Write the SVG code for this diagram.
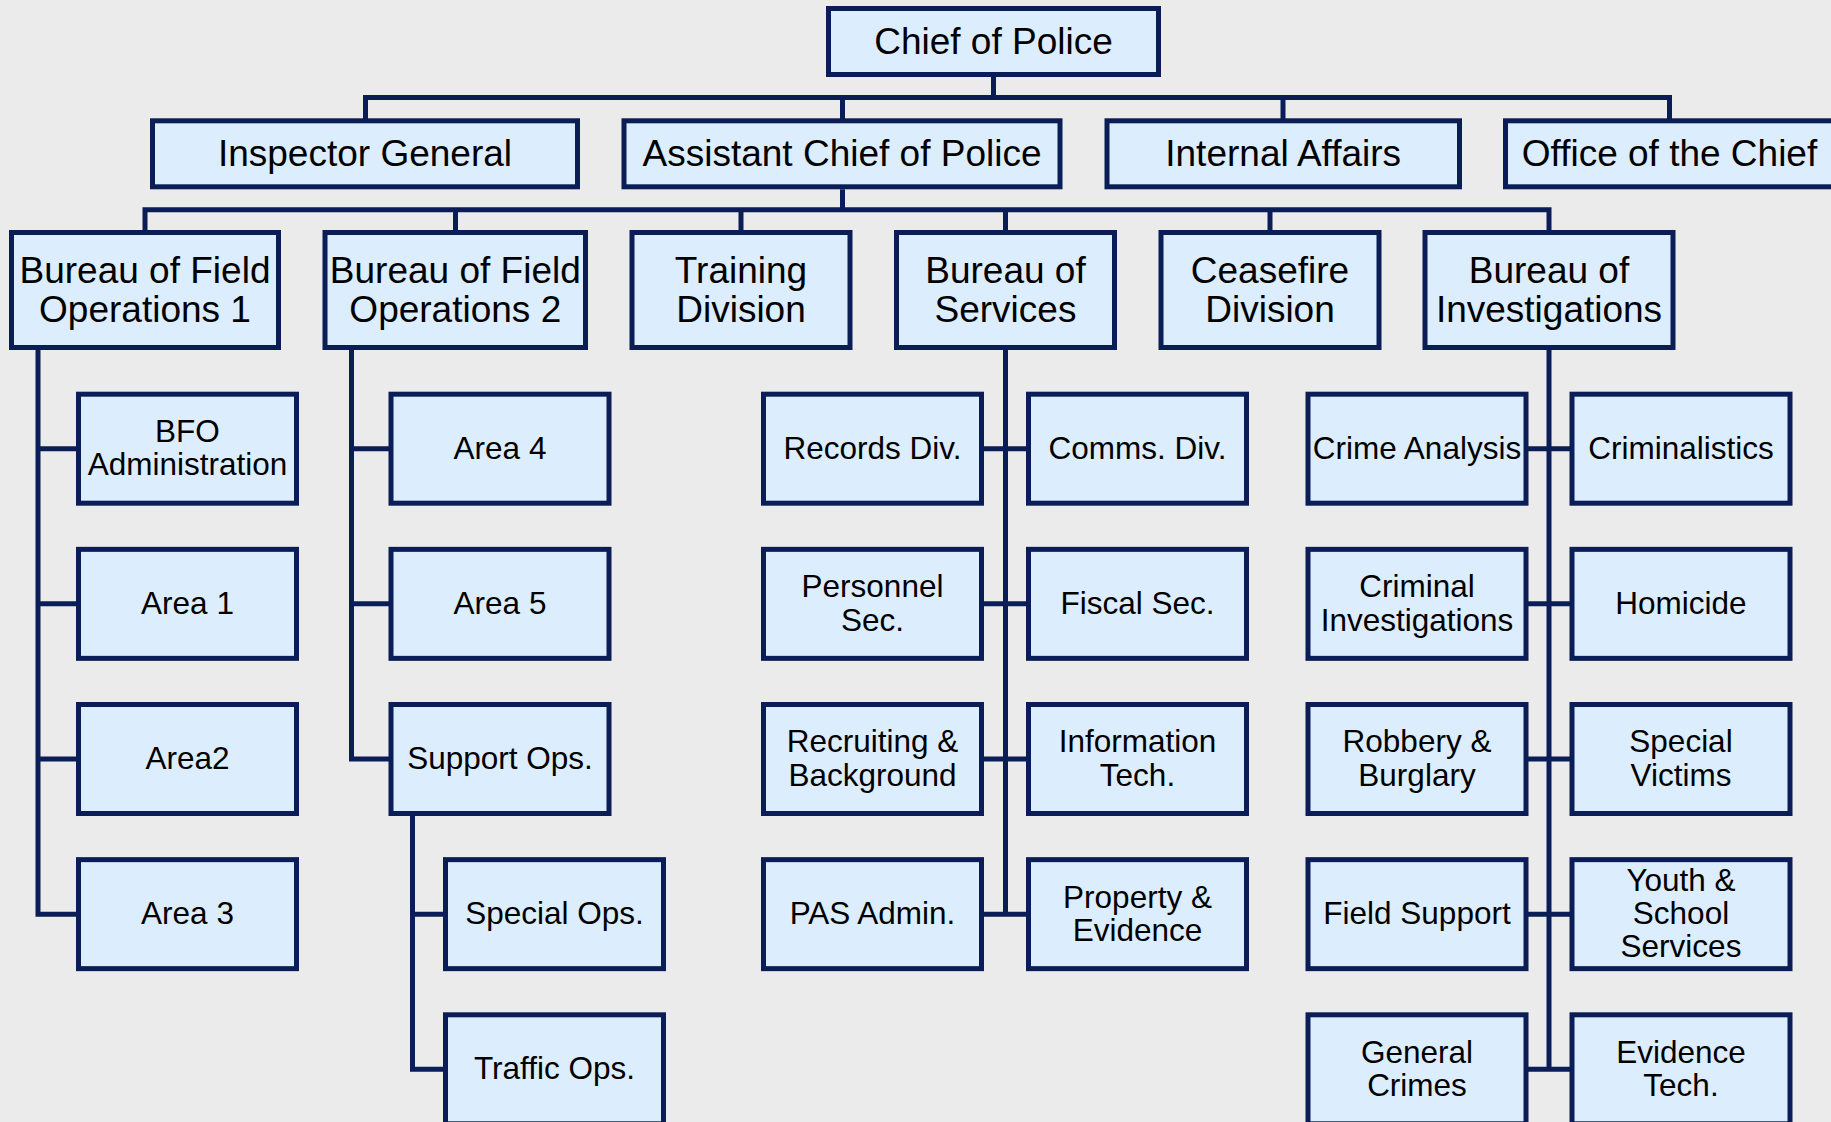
<svg xmlns="http://www.w3.org/2000/svg" width="1831" height="1122" viewBox="0 0 1831 1122">
<style>
.box{fill:#dcedfd;stroke:#0a1d56;stroke-width:5}
.conn{fill:none;stroke:#0a1d56;stroke-width:5;stroke-linejoin:miter}
text{font-family:"Liberation Sans",Arial,sans-serif;text-anchor:middle;fill:#000}
.L{font-size:37px}
.S{font-size:31.5px}
</style>
<rect width="1831" height="1122" fill="#ebebeb"/>
<g id="connectors" class="conn">
<path d="M365.5,120.8 V97.5 H1669.5 V120.8"/>
<path d="M993.5,76.7 V97.5"/>
<path d="M842.5,97.5 V120.8"/>
<path d="M1283,97.5 V120.8"/>
<path d="M145,232.5 V209.8 H1549 V232.5"/>
<path d="M842.5,189.3 V209.8"/>
<path d="M455.5,209.8 V232.5"/>
<path d="M741,209.8 V232.5"/>
<path d="M1005.5,209.8 V232.5"/>
<path d="M1270,209.8 V232.5"/>
<path d="M38,350 V914.15 H78.5"/>
<path d="M38,448.7 H78.5 M38,603.85 H78.5 M38,759 H78.5"/>
<path d="M351.5,350 V759 H391"/>
<path d="M351.5,448.7 H391 M351.5,603.85 H391"/>
<path d="M412.5,813.5 V1069.3 H445.5"/>
<path d="M412.5,914.15 H445.5"/>
<path d="M1005.5,350 V914.15"/>
<path d="M981.5,448.7 H1028.5 M981.5,603.85 H1028.5 M981.5,759 H1028.5 M981.5,914.15 H1028.5"/>
<path d="M1549,350 V1069.3"/>
<path d="M1526,448.7 H1572 M1526,603.85 H1572 M1526,759 H1572 M1526,914.15 H1572 M1526,1069.3 H1572"/>
</g>
<g id="chief"><rect class="box" x="828.5" y="8.5" width="330" height="66"/><text class="L" x="993.5" y="53.5">Chief of Police</text></g>
<g id="inspector-general"><rect class="box" x="152.5" y="120.8" width="425" height="66"/><text class="L" x="365" y="166">Inspector General</text></g>
<g id="assistant-chief"><rect class="box" x="624" y="120.8" width="436" height="66"/><text class="L" x="842" y="166">Assistant Chief of Police</text></g>
<g id="internal-affairs"><rect class="box" x="1107" y="120.8" width="352.5" height="66"/><text class="L" x="1283.2" y="166">Internal Affairs</text></g>
<g id="office-chief"><rect class="box" x="1505.5" y="120.8" width="328" height="66"/><text class="L" x="1669.5" y="166">Office of the Chief</text></g>
<g id="bfo1"><rect class="box" x="11.5" y="232.5" width="267" height="115"/><text class="L" x="145" y="282.5">Bureau of Field</text><text class="L" x="145" y="321.5">Operations 1</text></g>
<g id="bfo2"><rect class="box" x="325" y="232.5" width="260.5" height="115"/><text class="L" x="455.3" y="282.5">Bureau of Field</text><text class="L" x="455.3" y="321.5">Operations 2</text></g>
<g id="training"><rect class="box" x="632" y="232.5" width="218" height="115"/><text class="L" x="741" y="282.5">Training</text><text class="L" x="741" y="321.5">Division</text></g>
<g id="services"><rect class="box" x="896.5" y="232.5" width="218" height="115"/><text class="L" x="1005.5" y="282.5">Bureau of</text><text class="L" x="1005.5" y="321.5">Services</text></g>
<g id="ceasefire"><rect class="box" x="1161" y="232.5" width="218" height="115"/><text class="L" x="1270" y="282.5">Ceasefire</text><text class="L" x="1270" y="321.5">Division</text></g>
<g id="investigations"><rect class="box" x="1425" y="232.5" width="248" height="115"/><text class="L" x="1549" y="282.5">Bureau of</text><text class="L" x="1549" y="321.5">Investigations</text></g>
<g id="bfo-admin"><rect class="box" x="78.5" y="394.2" width="218" height="109"/><text class="S" x="187.5" y="442">BFO</text><text class="S" x="187.5" y="475.3">Administration</text></g>
<g id="area1"><rect class="box" x="78.5" y="549.35" width="218" height="109"/><text class="S" x="187.5" y="613.8">Area 1</text></g>
<g id="area2"><rect class="box" x="78.5" y="704.5" width="218" height="109"/><text class="S" x="187.5" y="769">Area2</text></g>
<g id="area3"><rect class="box" x="78.5" y="859.65" width="218" height="109"/><text class="S" x="187.5" y="924.1">Area 3</text></g>
<g id="area4"><rect class="box" x="391" y="394.2" width="218" height="109"/><text class="S" x="500" y="458.7">Area 4</text></g>
<g id="area5"><rect class="box" x="391" y="549.35" width="218" height="109"/><text class="S" x="500" y="613.8">Area 5</text></g>
<g id="support-ops"><rect class="box" x="391" y="704.5" width="218" height="109"/><text class="S" x="500" y="769">Support Ops.</text></g>
<g id="special-ops"><rect class="box" x="445.5" y="859.65" width="218" height="109"/><text class="S" x="554.5" y="924.1">Special Ops.</text></g>
<g id="traffic-ops"><rect class="box" x="445.5" y="1014.8" width="218" height="109"/><text class="S" x="554.5" y="1079.3">Traffic Ops.</text></g>
<g id="records"><rect class="box" x="763.5" y="394.2" width="218" height="109"/><text class="S" x="872.5" y="458.7">Records Div.</text></g>
<g id="personnel"><rect class="box" x="763.5" y="549.35" width="218" height="109"/><text class="S" x="872.5" y="597.2">Personnel</text><text class="S" x="872.5" y="630.5">Sec.</text></g>
<g id="recruiting"><rect class="box" x="763.5" y="704.5" width="218" height="109"/><text class="S" x="872.5" y="752.4">Recruiting &amp;</text><text class="S" x="872.5" y="785.7">Background</text></g>
<g id="pas-admin"><rect class="box" x="763.5" y="859.65" width="218" height="109"/><text class="S" x="872.5" y="924.1">PAS Admin.</text></g>
<g id="comms"><rect class="box" x="1028.5" y="394.2" width="218" height="109"/><text class="S" x="1137.5" y="458.7">Comms. Div.</text></g>
<g id="fiscal"><rect class="box" x="1028.5" y="549.35" width="218" height="109"/><text class="S" x="1137.5" y="613.8">Fiscal Sec.</text></g>
<g id="info-tech"><rect class="box" x="1028.5" y="704.5" width="218" height="109"/><text class="S" x="1137.5" y="752.4">Information</text><text class="S" x="1137.5" y="785.7">Tech.</text></g>
<g id="property"><rect class="box" x="1028.5" y="859.65" width="218" height="109"/><text class="S" x="1137.5" y="907.5">Property &amp;</text><text class="S" x="1137.5" y="940.8">Evidence</text></g>
<g id="crime-analysis"><rect class="box" x="1308" y="394.2" width="218" height="109"/><text class="S" x="1417" y="458.7">Crime Analysis</text></g>
<g id="criminal-inv"><rect class="box" x="1308" y="549.35" width="218" height="109"/><text class="S" x="1417" y="597.2">Criminal</text><text class="S" x="1417" y="630.5">Investigations</text></g>
<g id="robbery"><rect class="box" x="1308" y="704.5" width="218" height="109"/><text class="S" x="1417" y="752.4">Robbery &amp;</text><text class="S" x="1417" y="785.7">Burglary</text></g>
<g id="field-support"><rect class="box" x="1308" y="859.65" width="218" height="109"/><text class="S" x="1417" y="924.1">Field Support</text></g>
<g id="general-crimes"><rect class="box" x="1308" y="1014.8" width="218" height="109"/><text class="S" x="1417" y="1062.7">General</text><text class="S" x="1417" y="1096">Crimes</text></g>
<g id="criminalistics"><rect class="box" x="1572" y="394.2" width="218" height="109"/><text class="S" x="1681" y="458.7">Criminalistics</text></g>
<g id="homicide"><rect class="box" x="1572" y="549.35" width="218" height="109"/><text class="S" x="1681" y="613.8">Homicide</text></g>
<g id="special-victims"><rect class="box" x="1572" y="704.5" width="218" height="109"/><text class="S" x="1681" y="752.4">Special</text><text class="S" x="1681" y="785.7">Victims</text></g>
<g id="youth"><rect class="box" x="1572" y="859.65" width="218" height="109"/><text class="S" x="1681" y="890.8">Youth &amp;</text><text class="S" x="1681" y="924.1">School</text><text class="S" x="1681" y="957.4">Services</text></g>
<g id="evidence-tech"><rect class="box" x="1572" y="1014.8" width="218" height="109"/><text class="S" x="1681" y="1062.7">Evidence</text><text class="S" x="1681" y="1096">Tech.</text></g>
</svg>
